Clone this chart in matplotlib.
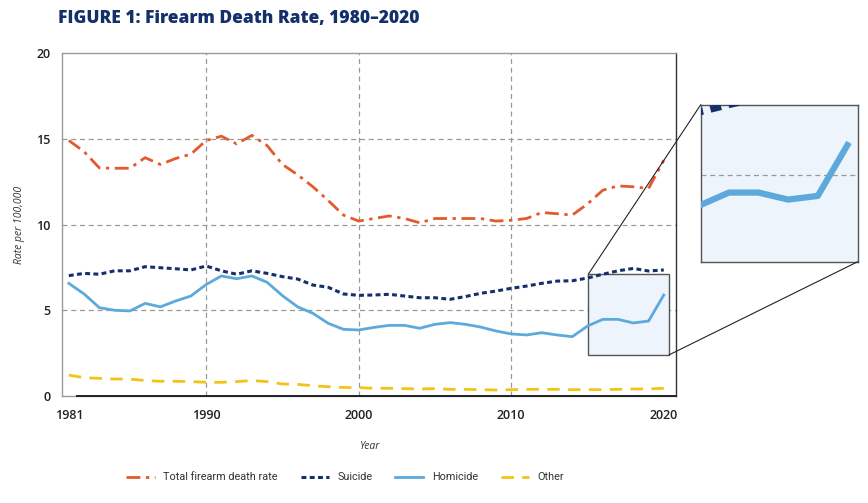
import matplotlib
matplotlib.use("Agg")
from matplotlib import pyplot as plt
from matplotlib.patches import Rectangle, ConnectionPatch
import numpy

years = numpy.arange(1981, 2021)

total = [14.9, 14.25, 13.3, 13.28, 13.28, 13.9, 13.5, 13.85, 14.1, 14.9,
         15.15, 14.7, 15.2, 14.6, 13.5, 12.9, 12.2, 11.4, 10.55, 10.2,
         10.35, 10.5, 10.35, 10.1, 10.35, 10.35, 10.35, 10.35, 10.2, 10.25,
         10.35, 10.7, 10.63, 10.55, 11.2, 12.0, 12.25, 12.2, 12.1, 13.75]
suicide = [7.02, 7.15, 7.1, 7.3, 7.3, 7.54, 7.48, 7.42, 7.35, 7.58,
           7.3, 7.1, 7.3, 7.15, 6.96, 6.82, 6.47, 6.34, 5.95, 5.87,
           5.89, 5.93, 5.83, 5.73, 5.73, 5.64, 5.8, 5.99, 6.12, 6.28,
           6.41, 6.57, 6.7, 6.72, 6.88, 7.1, 7.3, 7.44, 7.29, 7.35]
homicide = [6.57, 5.95, 5.15, 5.0, 4.96, 5.4, 5.2, 5.54, 5.83, 6.5,
            7.0, 6.84, 7.0, 6.63, 5.85, 5.2, 4.82, 4.24, 3.89, 3.85,
            4.0, 4.12, 4.12, 3.95, 4.18, 4.28, 4.18, 4.02, 3.79, 3.62,
            3.56, 3.69, 3.56, 3.46, 4.08, 4.47, 4.47, 4.26, 4.37, 5.89]
other = [1.22, 1.07, 1.03, 0.99, 0.99, 0.9, 0.86, 0.86, 0.84, 0.8,
         0.8, 0.84, 0.9, 0.84, 0.7, 0.68, 0.6, 0.54, 0.5, 0.49,
         0.45, 0.45, 0.43, 0.41, 0.43, 0.39, 0.39, 0.37, 0.35, 0.37,
         0.39, 0.39, 0.39, 0.37, 0.37, 0.37, 0.39, 0.41, 0.41, 0.45]

xticks = [1981, 1990, 2000, 2010, 2020]
yticks = [0, 5, 10, 15, 20]
labels = ["Total firearm death rate", "Suicide", "Homicide", "Other"]

c_total = "#e35a2c"
c_suicide = "#14306a"
c_homicide = "#5ea9dc"
c_other = "#f3c417"
navy = "#13306b"

plt.rcParams["font.family"] = ["Open Sans", "DejaVu Sans"]

fig = plt.figure(figsize=(8.68, 5.03), dpi=100)
ax = fig.add_axes([0.0714, 0.2127, 0.7074, 0.6819])


def draw_lines(a, lw):
    l1, = a.plot(years, total, color=c_total, lw=lw, dashes=(5, 2, 1.2, 2), zorder=3)
    l2, = a.plot(years, suicide, color=c_suicide, lw=lw * 1.1, dashes=(1.6, 1.1), zorder=3)
    l3, = a.plot(years, homicide, color=c_homicide, lw=lw, zorder=3)
    l4, = a.plot(years, other, color=c_other, lw=lw, dashes=(4.5, 3), zorder=3)
    return [l1, l2, l3, l4]


handles = draw_lines(ax, 2.0)

ax.set_xlim(1980.55, 2020.8)
ax.set_ylim(0, 20)
ax.set_xticks(xticks)
ax.set_yticks(yticks)
ax.tick_params(length=0, labelsize=9, labelcolor="#222222")
ax.tick_params(axis="x", pad=9)
ax.tick_params(axis="y", pad=8)
for lab in ax.get_xticklabels() + ax.get_yticklabels():
    lab.set_fontweight("semibold")

for y in [5, 10, 15]:
    ax.axhline(y, color="#999999", lw=0.9, ls=(0, (4, 3)), zorder=1)
for x in [1990, 2000, 2010]:
    ax.axvline(x, color="#999999", lw=0.9, ls=(0, (4, 3)), zorder=1)

for s in ["top", "left", "bottom"]:
    ax.spines[s].set_color("#999999")
    ax.spines[s].set_linewidth(1.0)
ax.spines["right"].set_color("#333333")
ax.spines["right"].set_linewidth(1.0)
# darker baseline starting just after the first year
ax.axhline(0, xmin=0.024, xmax=1, color="#222222", lw=1.4, zorder=4, clip_on=False)

ax.set_ylabel("Rate per 100,000", fontsize=7.5, style="italic", color="#333333", labelpad=8)
ax.set_xlabel("Year", fontsize=7.5, style="italic", color="#333333", labelpad=14)

# zoom box and inset
x0, x1, y0, y1 = 2015.05, 2020.35, 2.4, 7.1
ax.add_patch(Rectangle((x0, y0), x1 - x0, y1 - y0, facecolor="#edf4fb",
                       edgecolor="#555555", lw=1.0, zorder=2))

axins = fig.add_axes([0.8073, 0.4797, 0.1809, 0.3121])
axins.set_facecolor("#edf4fb")
draw_lines(axins, 4.5)
axins.set_xlim(x0, x1)
axins.set_ylim(y0, y1)
axins.set_xticks([])
axins.set_yticks([])
axins.axhline(5, color="#999999", lw=0.9, ls=(0, (4, 3)), zorder=1)
for s in axins.spines.values():
    s.set_color("#555555")
    s.set_linewidth(1.0)

for pa, pb in [((x0, y1), (0, 1)), ((x1, y0), (1, 0))]:
    cp = ConnectionPatch(xyA=pa, coordsA=ax.transData, xyB=pb, coordsB=axins.transAxes,
                         color="#222222", lw=0.8, zorder=5)
    fig.add_artist(cp)

fig.text(0.067, 0.963, "FIGURE 1: Firearm Death Rate, 1980\u20132020", fontsize=12.5,
         fontweight="heavy", color=navy, va="center", ha="left")

fig.legend(handles, labels, loc="center", bbox_to_anchor=(0.398, 0.051), ncol=4,
           frameon=False, handlelength=2.6, columnspacing=2.1,
           handletextpad=0.8, labelcolor="#333333",
           prop={"family": ["Roboto", "Open Sans"], "size": 7.8})

fig.savefig("out.png", dpi=100)
